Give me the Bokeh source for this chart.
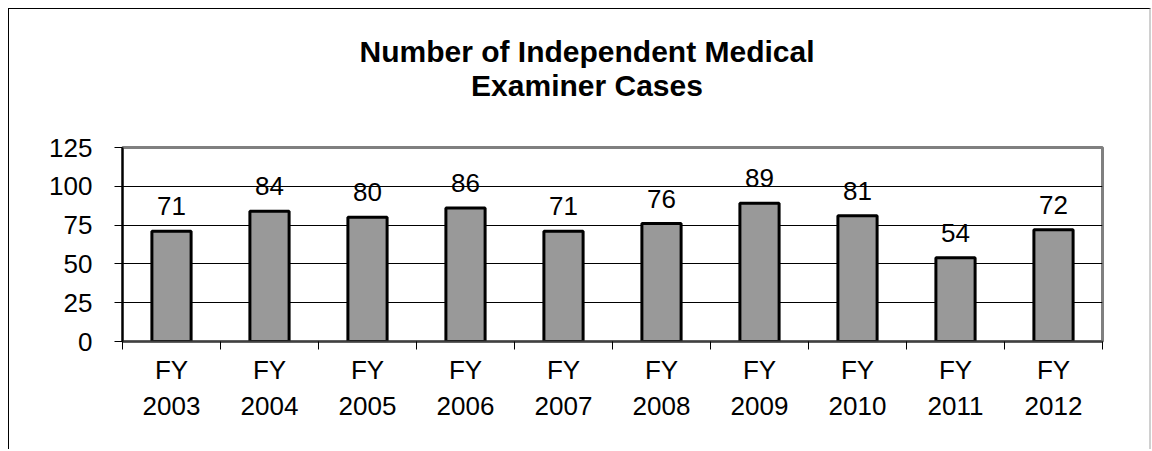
from bokeh.plotting import figure
from bokeh.models import FixedTicker, Div, LabelSet, ColumnDataSource, Range1d
from bokeh.layouts import column
from bokeh.core.properties import value
from bokeh.embed import file_html
from bokeh.resources import INLINE

title_lines = ["Number of Independent Medical", "Examiner Cases"]
years = ["2003", "2004", "2005", "2006", "2007", "2008", "2009", "2010", "2011", "2012"]
cases = [71, 84, 80, 86, 71, 76, 89, 81, 54, 72]
y_ticks = [0, 25, 50, 75, 100, 125]

FONT = "Liberation Sans"
W = 1140
TITLE_H = 110

xs = [i + 0.5 for i in range(len(years))]
src = ColumnDataSource(data=dict(x=xs, top=cases, label=[str(v) for v in cases]))

title_div = Div(
    text=('<div style="width:%dpx;box-sizing:border-box;white-space:nowrap;'
          'font-family:\'Liberation Sans\';font-weight:bold;font-size:30px;'
          'line-height:34px;text-align:center;padding-top:26px;padding-left:16px;color:black;">'
          % W) + "<br>".join(title_lines) + "</div>",
    width=W, height=TITLE_H, margin=0)

p = figure(width=W, height=440 - TITLE_H, output_backend="svg", toolbar_location=None,
           x_range=Range1d(0, len(years)), y_range=Range1d(0, 125),
           min_border_left=113, min_border_right=47, min_border_top=138 - TITLE_H,
           min_border_bottom=108, margin=0)
p.background_fill_color = "white"
p.border_fill_color = "white"
p.outline_line_color = "#808080"
p.outline_line_width = 3

p.vbar(x="x", top="top", width=0.4, bottom=0, source=src,
       fill_color="#999999", line_color="black", line_width=3)

labels = LabelSet(x="x", y="top", text="label", source=src, text_align="center",
                  text_baseline="alphabetic", y_offset=16, text_font=value(FONT),
                  text_font_size=value("26px"), text_color="black")
p.add_layout(labels)

p.xgrid.visible = False
p.ygrid.ticker = FixedTicker(ticks=y_ticks)
p.ygrid.grid_line_color = "black"
p.ygrid.grid_line_width = 1

yax = p.yaxis[0]
yax.ticker = FixedTicker(ticks=y_ticks)
yax.axis_line_color = "black"
yax.axis_line_width = 2
yax.major_tick_out = 8
yax.major_tick_in = 0
yax.major_tick_line_color = "black"
yax.minor_tick_out = 0
yax.minor_tick_in = 0
yax.major_label_standoff = 22
yax.major_label_text_font = FONT
yax.major_label_text_font_size = "26px"
yax.major_label_text_color = "black"

xax = p.xaxis[0]
xax.ticker = FixedTicker(ticks=xs, minor_ticks=list(range(len(years) + 1)))
xax.major_label_overrides = {x: "FY\n" + y for x, y in zip(xs, years)}
xax.axis_line_color = "#404040"
xax.axis_line_width = 2
xax.major_tick_out = 0
xax.major_tick_in = 0
xax.minor_tick_out = 8
xax.minor_tick_in = 0
xax.minor_tick_line_color = "black"
xax.minor_tick_line_width = 1
xax.major_label_standoff = 5
xax.major_label_text_font = FONT
xax.major_label_text_font_size = "26px"
xax.major_label_text_color = "black"

layout = column(title_div, p, spacing=0)
layout.styles = {"margin-left": "8px", "margin-top": "8px", "background-color": "white",
                 "border-top": "1px solid black", "border-left": "1px solid black",
                 "border-right": "2px solid #d0d0d0"}

open("out.html", "w").write(file_html(layout, INLINE))
